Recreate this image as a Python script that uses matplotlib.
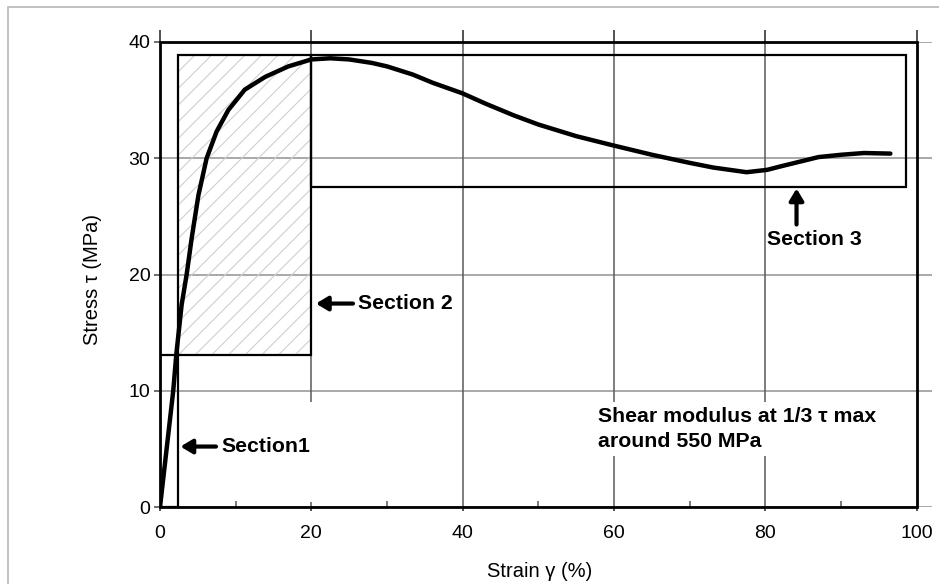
import matplotlib
matplotlib.use("Agg")
import matplotlib.pyplot as plt
from matplotlib.patches import Rectangle
from matplotlib.ticker import MultipleLocator

plt.rcParams['font.family'] = ['Liberation Sans', 'DejaVu Sans']
plt.rcParams['hatch.linewidth'] = 0.8

# ---- data ----
strain = [0, 1.75, 2.15, 2.86, 3.52, 4.18, 5.07, 6.16, 7.48, 9.03, 11.2, 13.9, 16.95, 20,
          22.5, 25, 28, 30, 33.4, 36, 39.9, 43, 46.7, 50, 55, 59.9, 65, 70,
          73.1, 77.5, 80.2, 82, 84.5, 87, 90, 93, 96.5]
stress = [0, 10, 13.1, 17.4, 20, 23.1, 26.8, 30, 32.3, 34.15, 35.9, 37.0, 37.9, 38.5,
          38.6, 38.5, 38.2, 37.9, 37.2, 36.5, 35.6, 34.7, 33.7, 32.9, 31.9, 31.1, 30.3, 29.6,
          29.2, 28.8, 29.0, 29.3, 29.7, 30.1, 30.3, 30.45, 30.4]

sec1 = (0, 0, 2.4, 13.1)        # x0, y0, x1, y1
sec2 = (2.4, 13.1, 20, 38.9)
sec3 = (20, 27.5, 98.5, 38.9)
xticks = [0, 20, 40, 60, 80, 100]
yticks = [0, 10, 20, 30, 40]

fig = plt.figure(figsize=(9.39, 5.84), dpi=100)
ax = fig.add_axes([160/939, 1-507/584, (932-160)/939, (507-42)/584])
ax.set_xlim(0, 102)
ax.set_ylim(0, 40)

for s in ax.spines.values():
    s.set_visible(False)

# gridlines
for yv in yticks:
    ax.axhline(yv, color='#9a9a9a', lw=1.2, zorder=0.5)
for xv in xticks[1:-1]:
    ax.axvline(xv, color='#5a5a5a', lw=1.1, zorder=0.5)

# white box hiding gridline (text frame)
ax.add_patch(Rectangle((3.2, 0.4), 18.5, 8.6, facecolor='white', edgecolor='none', zorder=0.8))

# outer frame
ax.add_patch(Rectangle((0, 0), 100, 40, fill=False, edgecolor='black', lw=2.0, zorder=3, clip_on=False))

# section boxes
def box(sec, **kw):
    x0, y0, x1, y1 = sec
    ax.add_patch(Rectangle((x0, y0), x1-x0, y1-y0, zorder=2, **kw))

box(sec2, facecolor='none', edgecolor='#cfcfcf', lw=0, hatch='//')
box(sec1, fill=False, edgecolor='black', lw=1.6)
box(sec2, fill=False, edgecolor='black', lw=1.6)
box(sec3, fill=False, edgecolor='black', lw=1.6)

# curve
ax.plot(strain, stress, color='black', lw=3.2, solid_joinstyle='round', solid_capstyle='round', zorder=4)

# annotations
arrow = dict(arrowstyle='-|>,head_length=0.5,head_width=0.3', lw=3, color='black',
             shrinkA=0, shrinkB=0, mutation_scale=14)
fs = 15.3
tkw = dict(fontsize=fs, fontweight='bold', va='center', ha='left', zorder=5)
ax.annotate('', xy=(20.6, 17.5), xytext=(25.5, 17.5), arrowprops=arrow, zorder=5)
ax.text(26.2, 17.5, 'Section 2', **tkw)
ax.annotate('', xy=(2.7, 5.2), xytext=(7.4, 5.2), arrowprops=arrow, zorder=5)
ax.text(8.1, 5.2, 'Section1', **tkw)
ax.annotate('', xy=(84.1, 27.4), xytext=(84.1, 24.3), arrowprops=arrow, zorder=5)
ax.text(80.2, 23.0, 'Section 3', **tkw)
ax.text(57.9, 6.7, 'Shear modulus at 1/3 \u03c4 max\naround 550 MPa', fontsize=fs, fontweight='bold',
        va='center', ha='left', linespacing=1.35, zorder=5,
        bbox=dict(facecolor='white', edgecolor='none', pad=4))

# ticks
ax.set_xticks(xticks)
ax.set_yticks(yticks)
ax.xaxis.set_minor_locator(MultipleLocator(10))
ax.tick_params(axis='x', which='major', bottom=True, top=True, direction='out', length=9,
               width=1.2, color='#333333', labelsize=14, pad=4)
for t in ax.xaxis.get_major_ticks():
    t.tick1line.set_markersize(3)
ax.tick_params(axis='x', which='minor', bottom=True, top=False, direction='in', length=4,
               width=1.1, color='#555555')
ax.tick_params(axis='y', which='major', left=True, direction='out', length=4, width=1.2,
               color='#555555', labelsize=14, pad=3)
ax.set_xlabel('Strain \u03b3 (%)', fontsize=14.5)
ax.set_ylabel('Stress \u03c4 (MPa)', fontsize=14.5)
ax.xaxis.set_label_coords((540-160)/772, (507-562)/465)
ax.yaxis.set_label_coords((102-160)/772, 0.49)

# figure border
fig.patches.append(Rectangle((8/939, -0.1), 1.2, 1-7/584+0.1, transform=fig.transFigure,
                             fill=False, edgecolor='#bdbdbd', lw=1.3))

fig.savefig('out.png', dpi=100)
